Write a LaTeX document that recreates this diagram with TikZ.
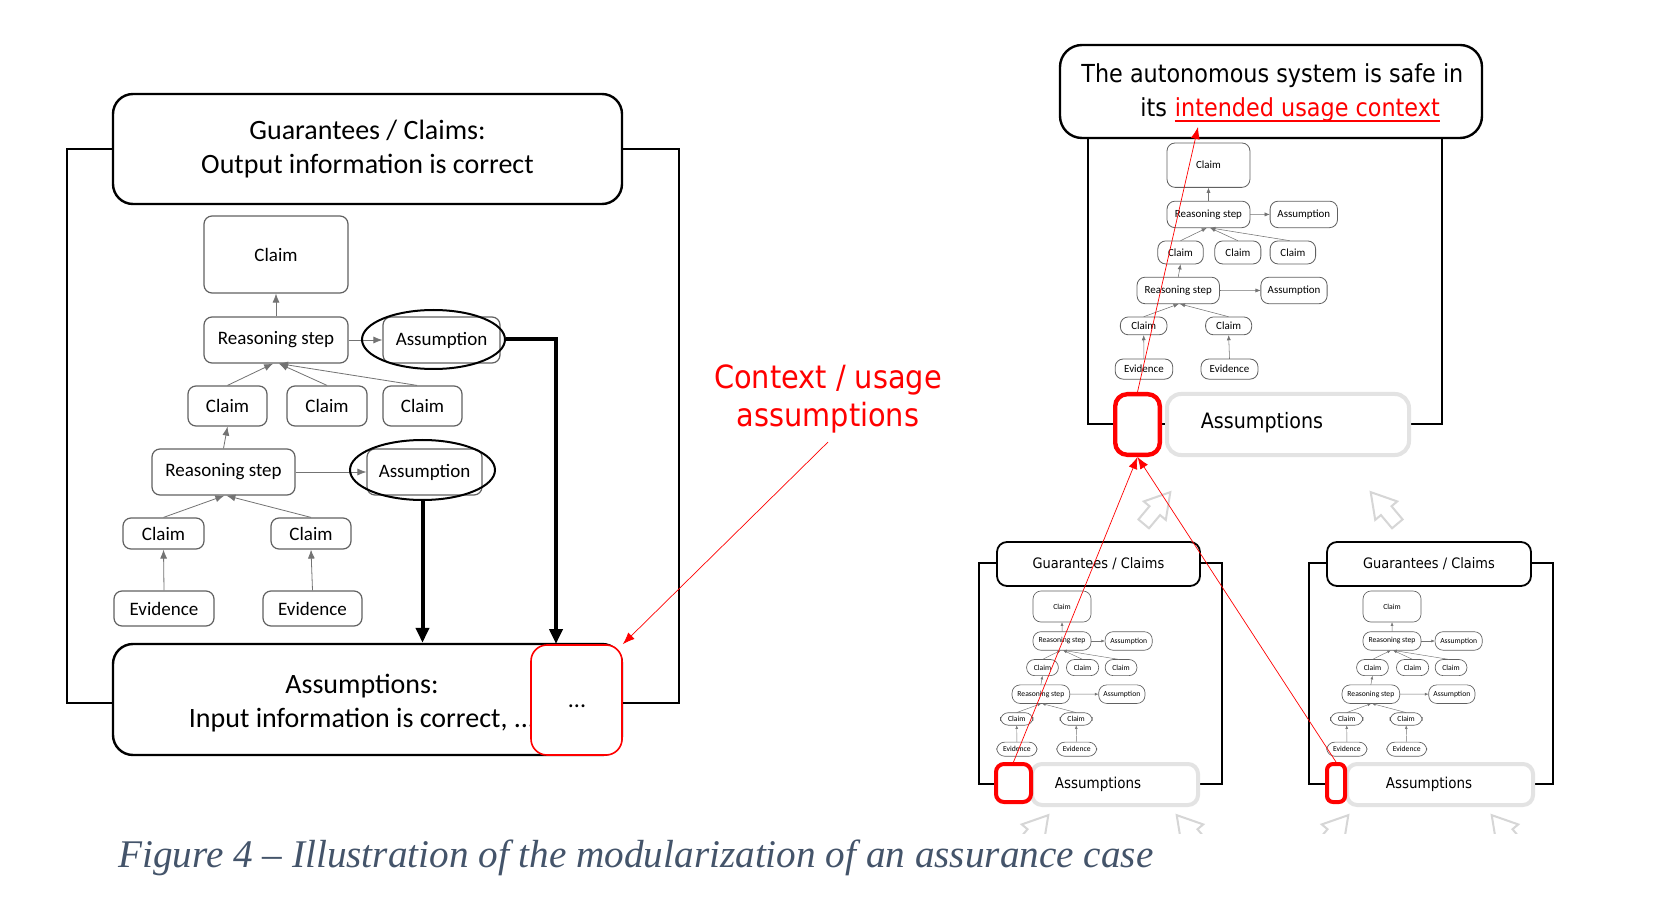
\documentclass[tikz,border=0pt]{standalone}
\usepackage{fontspec}
\setmainfont{Carlito}
\newfontfamily\tahoma[FakeStretch=0.9]{DejaVu Sans}
\newfontfamily\capfont{Liberation Serif}
\usetikzlibrary{arrows.meta,shapes.geometric}
\definecolor{capblue}{HTML}{44546A}

\newcommand{\asstree}[4]{%
\pgfmathsetmacro\tipl{4.5*#4}%
\pgfmathsetmacro\tipw{3.5*#4}%
\pgfmathsetmacro\tlw{0.15+0.45*#4}%
\pgfmathsetmacro\elw{0.1+0.3*#4}%
\begin{scope}[shift={(#2,#3)}, scale=#4, transform shape, name prefix=#1-,
  tbox/.style={draw=black!62, line width=\tlw pt, rounded corners=4pt, inner sep=0pt,
               fill=white, font=\fontsize{9.5}{11}\selectfont},
  tedge/.style={draw=black!55, line width=\elw pt, -{Latex[length=\tipl pt,width=\tipw pt]}}]
\node[tbox, minimum width=72pt, minimum height=38.5pt] (C0) at (72,38.5) {Claim};
\node[tbox, minimum width=72pt, minimum height=23pt] (R1) at (72,124) {Reasoning step};
\node[tbox, minimum width=58.5pt, minimum height=23pt] (A1) at (237.5,124) {Assumption};
\node[tbox, minimum width=39.5pt, minimum height=20pt] (C1) at (23.5,190) {Claim};
\node[tbox, minimum width=40pt, minimum height=20pt] (C2) at (123,190) {Claim};
\node[tbox, minimum width=39.5pt, minimum height=20pt] (C3) at (218.5,190) {Claim};
\node[tbox, minimum width=71.5pt, minimum height=23pt] (R2) at (19.5,256) {Reasoning step};
\node[tbox, minimum width=57.5pt, minimum height=23pt] (A2) at (220.5,256) {Assumption};
\node[tbox, minimum width=40.5pt, minimum height=15.5pt] (C4) at (-40.5,317.5) {Claim};
\node[tbox, minimum width=40pt, minimum height=15.5pt] (C5) at (107,317.5) {Claim};
\node[tbox, minimum width=50pt, minimum height=17.5pt] (E1) at (-40,392.5) {Evidence};
\node[tbox, minimum width=49.5pt, minimum height=17.5pt] (E2) at (108.5,392.5) {Evidence};
\draw[tedge] (R1) -- (C0);
\draw[tedge] (R1) -- (A1);
\draw[tedge] (C1.north) -- (R1.-97);
\draw[tedge] (C2.north) -- (R1.-83);
\draw[tedge] (C3.105) -- (R1.-83);
\draw[tedge] (R2.north) -- (C1.south);
\draw[tedge] (R2) -- (A2);
\draw[tedge] (C4.north) -- (R2.-88);
\draw[tedge] (C5.north) -- (R2.-83);
\draw[tedge] (E1.north) -- (C4.south);
\draw[tedge] (E2.north) -- (C5.south);
\end{scope}}

\newcommand{\hollowarrow}[3]{%
\draw[hollow, shift={(#1,#2)}, rotate=#3, scale=1.15] (-6,18) -- (6,18) -- (6,3) -- (12.5,3) -- (0,-18) -- (-12.5,3) -- (-6,3) -- cycle;}

\begin{document}
\begin{tikzpicture}[x=0.5pt,y=-0.5pt,
  bigbox/.style={draw=black, line width=1.2pt, rounded corners=10pt, fill=white, inner sep=0pt},
  redbox/.style={draw=red, rounded corners=8pt, fill=white, inner sep=0pt},
  greybox/.style={draw=black!11, line width=2pt, rounded corners=7pt, fill=white, inner sep=0pt},
  frame/.style={draw=black, line width=0.8pt},
  thickarrow/.style={line width=2pt, line join=miter, -{Triangle[length=7.5pt,width=6.5pt]}},
  redarrow/.style={draw=red, line width=0.35pt, -{Latex[length=6pt,width=4.5pt]}},
  hollow/.style={draw=black!16, line width=1pt, fill=white, line join=miter},
  txt/.style={inner sep=0pt},
  circ/.style={draw=black, line width=1pt, ellipse, inner sep=0pt}]
\fill[white] (0,0) rectangle (1670,898);
\useasboundingbox (0,0) rectangle (1670,898);

% ---------------- left module ----------------
\draw[frame] (67,149) rectangle (679,703);
\node[bigbox, minimum width=254.5pt, minimum height=55pt, align=center,
      font=\fontsize{14}{17}\selectfont] (LG) at (367.5,149)
      {Guarantees / Claims:\\Output information is correct};
\asstree{L}{204}{216}{1}
\node[circ, minimum width=71.5pt, minimum height=29.5pt] (EA1) at (433.5,339.5) {};
\node[circ, minimum width=72.5pt, minimum height=30pt] (EA2) at (422.5,470) {};
\node[bigbox, minimum width=254.5pt, minimum height=55.5pt] (LA) at (367.5,699.5) {};
\node[txt, align=center, font=\fontsize{14}{17}\selectfont] (LAt) at (362,703)
      {Assumptions:\\Input information is correct, ...};
\node[redbox, line width=0.8pt, minimum width=45.5pt, minimum height=55pt] (LR) at (576.5,700) {};
\node[txt, font=\fontsize{12}{14}\selectfont] (LRd) at (577,706) {...};
\coordinate (kx) at (556,644);
\draw[thickarrow] (EA2.south) -- (EA2.south |- LA.north);
\draw[thickarrow] (EA1.east) -| (kx);

% red label
\node[txt, anchor=base, text=red, font=\tahoma\fontsize{16}{19}\selectfont] (ctx1) at (828,389) {Context / usage};
\node[txt, anchor=base, text=red, font=\tahoma\fontsize{16}{19}\selectfont] (ctx2) at (828,427) {assumptions};
\draw[redarrow] ([yshift=-4pt]ctx2.south) -- (LR.north east);

% ---------------- right main module ----------------
\draw[line width=1pt] (1088,138) rectangle (1442,424);
\node[bigbox, rounded corners=11pt, minimum width=211pt, minimum height=46.5pt] (T) at (1271,91.5) {};
\node[txt, anchor=base west, font=\tahoma\fontsize{12.4}{14}\selectfont] (t1) at (1081,83) {The autonomous system is safe in};
\node[txt, anchor=base west, font=\tahoma\fontsize{12.4}{14}\selectfont] (t2a) at (1140,117) {its};
\node[txt, anchor=base west, text=red, font=\tahoma\fontsize{12.4}{14}\selectfont] (t2b) at ([xshift=3.6pt]t2a.base east) {intended usage context};
\draw[red, line width=0.6pt] ([yshift=-2pt]t2b.base west) -- ([yshift=-2pt]t2b.base east);
\asstree{M}{1167}{143}{0.576}
\node[greybox, minimum width=121pt, minimum height=30.5pt] (MA) at (1288,424.5) {};
\node[txt, font=\tahoma\fontsize{10.6}{12}\selectfont] (MAt) at (1262,423) {Assumptions};
\node[redbox, line width=2.2pt, rounded corners=6pt, minimum width=22.3pt, minimum height=30.3pt] (MR) at (1137.5,424.5) {};
\coordinate (tipT) at (1198,127);
\draw[redarrow] (MR.north) -- (tipT);

\hollowarrow{1157}{508}{-40}
\hollowarrow{1384}{508}{40}

% ---------------- module 2 ----------------
\draw[line width=0.7pt] (979,563) rectangle (1222,784);
\node[bigbox, line width=0.9pt, rounded corners=5pt, minimum width=101.5pt, minimum height=22pt,
      font=\tahoma\fontsize{7.2}{9}\selectfont] (G2) at (1098.5,564) {Guarantees / Claims};
\asstree{P}{1033}{591}{0.403}
\node[greybox, rounded corners=5pt, minimum width=83pt, minimum height=20.5pt] (A2b) at (1115,784.5) {};
\node[txt, font=\tahoma\fontsize{7.5}{9}\selectfont] (A2t) at (1098,784) {Assumptions};
\node[redbox, line width=2pt, rounded corners=4pt, minimum width=17.5pt, minimum height=19pt] (R2b) at (1013.5,783) {};

% ---------------- module 3 ----------------
\draw[line width=0.7pt] (1309,563) rectangle (1553,784);
\node[bigbox, line width=0.9pt, rounded corners=5pt, minimum width=102pt, minimum height=22pt,
      font=\tahoma\fontsize{7.2}{9}\selectfont] (G3) at (1429,564) {Guarantees / Claims};
\asstree{Q}{1363}{591}{0.403}
\node[greybox, rounded corners=5pt, minimum width=93pt, minimum height=20.5pt] (A3b) at (1440,784.5) {};
\node[txt, font=\tahoma\fontsize{7.5}{9}\selectfont] (A3t) at (1429,784) {Assumptions};
\node[redbox, line width=2pt, rounded corners=3pt, minimum width=9pt, minimum height=19pt] (R3b) at (1336,783) {};

\draw[redarrow] (R2b.north) -- (MR.south);
\draw[redarrow] (R3b.north) -- (MR.south);

\begin{scope}
\clip (900,800) rectangle (1600,833);
\hollowarrow{1035}{831}{-40}
\hollowarrow{1190}{831}{40}
\hollowarrow{1335}{831}{-40}
\hollowarrow{1505}{831}{40}
\end{scope}

% caption
\node[txt, anchor=base west, text=capblue, font=\capfont\itshape\fontsize{19.6}{23}\selectfont] (cap) at (118,867)
  {Figure 4 – Illustration of the modularization of an assurance case};
\end{tikzpicture}
\end{document}
